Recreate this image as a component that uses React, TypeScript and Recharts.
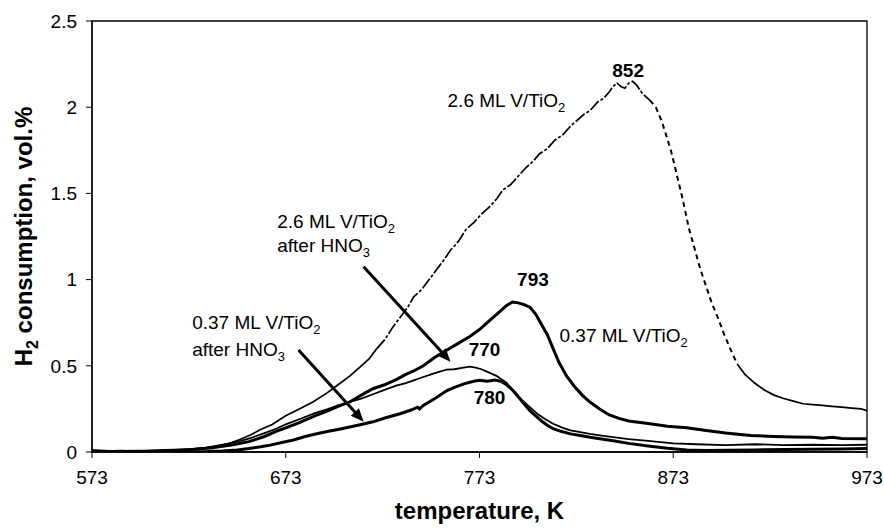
import React from 'react';
import { LineChart, Line, XAxis, YAxis, ReferenceDot, ReferenceLine, ReferenceArea } from 'recharts';

const FONT = '"Liberation Sans", Arial, Helvetica, sans-serif';

const xTicks = [573, 673, 773, 873, 973];
const yTicks = [0, 0.5, 1, 1.5, 2, 2.5];

// 2.6 ML V/TiO2
const t26 = [573, 580, 588, 596, 604, 612, 620, 628, 636, 644, 650, 655, 660, 666, 673, 680, 687, 694, 700, 706, 712, 716, 720, 724, 728, 732, 736, 739, 743, 747, 751, 755, 758, 762, 766, 770, 774, 778, 782, 785, 789, 793, 797, 801, 804, 808, 812, 816, 820, 823, 827, 830, 834, 837, 840, 842, 844, 846, 848, 850, 852, 854, 857, 861, 864, 867, 869, 872, 875, 878, 881, 884, 887, 890, 893, 896, 899, 902, 906, 910, 915, 920, 925, 930, 935, 940, 945, 950, 955, 960, 965, 970, 973];
const v26 = [0.01, 0.005, 0.008, 0.004, 0.006, 0.008, 0.012, 0.02, 0.03, 0.05, 0.075, 0.1, 0.13, 0.16, 0.21, 0.25, 0.29, 0.34, 0.39, 0.44, 0.5, 0.54, 0.6, 0.65, 0.72, 0.78, 0.84, 0.9, 0.94, 1.0, 1.06, 1.12, 1.17, 1.22, 1.29, 1.33, 1.38, 1.42, 1.47, 1.52, 1.55, 1.6, 1.65, 1.69, 1.73, 1.76, 1.81, 1.84, 1.89, 1.92, 1.96, 1.98, 2.03, 2.05, 2.09, 2.12, 2.14, 2.12, 2.11, 2.14, 2.15, 2.13, 2.08, 2.04, 2.0, 1.92, 1.85, 1.74, 1.6, 1.46, 1.3, 1.18, 1.06, 0.96, 0.86, 0.78, 0.69, 0.61, 0.51, 0.45, 0.4, 0.36, 0.33, 0.31, 0.295, 0.28, 0.275, 0.27, 0.265, 0.26, 0.255, 0.25, 0.24];

// 0.37 ML V/TiO2
const t037 = [573, 585, 600, 615, 625, 635, 645, 654, 662, 668, 673, 680, 688, 695, 700, 706, 712, 718, 724, 730, 735, 739, 744, 750, 756, 762, 768, 773, 778, 783, 787, 790, 793, 796, 799, 802, 805, 808, 811, 814, 818, 822, 826, 830, 835, 840, 845, 850, 860, 870, 880, 890, 900, 913, 925, 935, 945, 950, 955, 960, 973];
const v037 = [0.005, 0.003, 0.005, 0.01, 0.015, 0.025, 0.04, 0.06, 0.09, 0.12, 0.14, 0.17, 0.21, 0.24, 0.265, 0.29, 0.33, 0.367, 0.39, 0.42, 0.45, 0.47, 0.5, 0.55, 0.59, 0.63, 0.67, 0.71, 0.76, 0.81, 0.85, 0.87, 0.865, 0.855, 0.84, 0.8, 0.74, 0.68, 0.6, 0.52, 0.44, 0.38, 0.33, 0.29, 0.25, 0.215, 0.195, 0.18, 0.165, 0.15, 0.14, 0.125, 0.11, 0.096, 0.09, 0.087, 0.085, 0.08, 0.085, 0.078, 0.077];

// 2.6 ML V/TiO2 after HNO3
const t26h = [573, 585, 600, 612, 622, 632, 642, 650, 656, 662, 668, 673, 680, 688, 695, 700, 706, 712, 718, 724, 730, 735, 739, 744, 748, 752, 756, 760, 764, 768, 771, 774, 778, 782, 787, 791, 795, 799, 803, 807, 811, 816, 820, 825, 830, 836, 842, 850, 860, 873, 885, 900, 915, 930, 945, 960, 973];
const v26h = [0.01, 0.005, 0.006, 0.01, 0.015, 0.025, 0.045, 0.065, 0.085, 0.11, 0.135, 0.16, 0.19, 0.225, 0.25, 0.27, 0.29, 0.31, 0.335, 0.36, 0.385, 0.4, 0.416, 0.435, 0.45, 0.465, 0.478, 0.48, 0.488, 0.495, 0.49, 0.48, 0.46, 0.44, 0.4, 0.35, 0.3, 0.26, 0.22, 0.19, 0.164, 0.14, 0.125, 0.115, 0.105, 0.095, 0.086, 0.075, 0.065, 0.05, 0.045, 0.04, 0.045, 0.04, 0.042, 0.04, 0.042];

// 0.37 ML V/TiO2 after HNO3
const t037h = [573, 590, 605, 620, 632, 640, 648, 654, 660, 665, 671, 677, 683, 689, 695, 700, 706, 712, 718, 725, 732, 738, 741, 742, 744, 750, 756, 760, 765, 770, 773, 777, 781, 784, 787, 790, 793, 796, 799, 802, 805, 808, 811, 815, 820, 825, 830, 836, 842, 850, 860, 870, 880, 890, 900, 915, 930, 945, 960, 973];
const v037h = [0.005, 0.002, 0.003, 0.002, 0.003, 0.006, 0.012, 0.02, 0.03, 0.04, 0.055, 0.07, 0.09, 0.106, 0.12, 0.13, 0.145, 0.16, 0.175, 0.2, 0.222, 0.245, 0.26, 0.25, 0.27, 0.31, 0.355, 0.375, 0.395, 0.41, 0.416, 0.41, 0.418, 0.41, 0.39, 0.36, 0.32, 0.28, 0.24, 0.21, 0.18, 0.155, 0.135, 0.12, 0.105, 0.096, 0.085, 0.075, 0.065, 0.05, 0.035, 0.022, 0.012, 0.008, 0.01, 0.012, 0.015, 0.016, 0.018, 0.02];

const zip = (t: number[], v: number[]) => t.map((T, i) => ({ T, v: v[i] }));
const d26 = zip(t26, v26);
const seg = (lo: number, hi: number) => d26.filter((p) => p.T >= lo && p.T <= hi);
const d26a = seg(573, 720);
const d26b = seg(720, 861);
const d26c = seg(861, 906);
const d26d = seg(906, 973);
const d037 = zip(t037, v037);
const d26h = zip(t26h, v26h);
const d037h = zip(t037h, v037h);

type Ln = { main: string; sub?: string };
type Note = { T: number; v: number; lines: Ln[]; bold?: boolean; anchor: 'start' | 'middle'; gap?: number };

const notes: Note[] = [
  { T: 756.5, v: 2.004, lines: [{ main: '2.6 ML V/TiO', sub: '2' }], anchor: 'start' },
  { T: 668.6, v: 1.302, lines: [{ main: '2.6 ML V/TiO', sub: '2' }, { main: 'after HNO', sub: '3' }], anchor: 'start', gap: 24 },
  { T: 624.7, v: 0.713, lines: [{ main: '0.37 ML V/TiO', sub: '2' }, { main: 'after HNO', sub: '3' }], anchor: 'start', gap: 27 },
  { T: 814.3, v: 0.64, lines: [{ main: '0.37 ML V/TiO', sub: '2' }], anchor: 'start' },
  { T: 849.7, v: 2.175, lines: [{ main: '852' }], bold: true, anchor: 'middle' },
  { T: 800.6, v: 0.963, lines: [{ main: '793' }], bold: true, anchor: 'middle' },
  { T: 775.6, v: 0.557, lines: [{ main: '770' }], bold: true, anchor: 'middle' },
  { T: 778.2, v: 0.278, lines: [{ main: '780' }], bold: true, anchor: 'middle' },
];

const arrows = [
  [{ x: 713.2, y: 1.075 }, { x: 758.0, y: 0.524 }],
  [{ x: 679.6, y: 0.592 }, { x: 713.2, y: 0.176 }],
];

const ArrowShape = (props: any) => {
  const { x1, y1, x2, y2 } = props;
  const dx = x2 - x1;
  const dy = y2 - y1;
  const len = Math.sqrt(dx * dx + dy * dy);
  const ux = dx / len;
  const uy = dy / len;
  const hl = 13;
  const hw = 5.5;
  const bx = x2 - ux * hl;
  const by = y2 - uy * hl;
  const px = -uy;
  const py = ux;
  return (
    <g>
      <line x1={x1} y1={y1} x2={bx + ux * 2} y2={by + uy * 2} stroke="#000" strokeWidth={3} />
      <polygon points={`${x2},${y2} ${bx + px * hw},${by + py * hw} ${bx - px * hw},${by - py * hw}`} fill="#000" />
    </g>
  );
};

const makeLabel = (n: Note) => (props: any) => {
  const vb = props.viewBox || {};
  const x = (vb.x ?? 0) + (vb.width ?? 0) / 2;
  const y = (vb.y ?? 0) + (vb.height ?? 0) / 2;
  return (
    <g>
      {n.lines.map((ln, i) => (
        <text key={i} x={x} y={y + i * (n.gap || 0)} fontFamily={FONT} fontSize={19} fontWeight={n.bold ? 'bold' : 'normal'} textAnchor={n.anchor} fill="#000">
          {ln.main}
          {ln.sub ? <tspan dy={5} fontSize={13}>{ln.sub}</tspan> : null}
        </text>
      ))}
    </g>
  );
};

const XLabel = (props: any) => {
  const vb = props.viewBox || {};
  const x = vb.x + vb.width / 2;
  const y = vb.y + 67;
  return (
    <text x={x} y={y} textAnchor="middle" fontFamily={FONT} fontSize={24} fontWeight="bold" fill="#000">
      temperature, K
    </text>
  );
};

const YLabel = (props: any) => {
  const vb = props.viewBox || {};
  const x = vb.x + 32;
  const y = vb.y + vb.height / 2;
  return (
    <text x={x} y={y} transform={`rotate(-90, ${x}, ${y})`} textAnchor="middle" fontFamily={FONT} fontSize={24} fontWeight="bold" fill="#000">
      H<tspan dy={6} fontSize={16}>2</tspan>
      <tspan dy={-6}> consumption, vol.%</tspan>
    </text>
  );
};

const tickStyle = { fontSize: 19, fill: '#000', fontFamily: FONT };

export default function App() {
  return (
    <div style={{ position: 'absolute', left: 0, top: 0, background: '#fff' }}>
      <LineChart width={884} height={530} margin={{ top: 21, right: 17, left: 0, bottom: 0 }}>
        <XAxis
          type="number"
          dataKey="T"
          domain={[573, 973]}
          ticks={xTicks}
          allowDataOverflow
          height={78}
          tickSize={6}
          tickMargin={13}
          tick={tickStyle}
          axisLine={{ stroke: '#000', strokeWidth: 1.3 }}
          tickLine={{ stroke: '#000', strokeWidth: 1 }}
          label={{ content: XLabel }}
        />
        <YAxis
          type="number"
          domain={[0, 2.5]}
          ticks={yTicks}
          allowDataOverflow
          width={92}
          tickSize={6}
          tickMargin={9}
          tick={tickStyle}
          axisLine={{ stroke: '#000', strokeWidth: 1.3 }}
          tickLine={{ stroke: '#000', strokeWidth: 1 }}
          label={{ content: YLabel }}
        />
        <ReferenceArea x1={573} x2={973} y1={0} y2={2.5} fill="none" stroke="#000" strokeWidth={1.3} ifOverflow="visible" />
        <Line data={d26a} dataKey="v" type="linear" stroke="#000" strokeWidth={1.7} dot={false} isAnimationActive={false} />
        <Line data={d26b} dataKey="v" type="linear" stroke="#000" strokeWidth={1.7} strokeDasharray="12 2 3 2" dot={false} isAnimationActive={false} />
        <Line data={d26c} dataKey="v" type="linear" stroke="#000" strokeWidth={2} strokeDasharray="5 4" dot={false} isAnimationActive={false} />
        <Line data={d26d} dataKey="v" type="linear" stroke="#000" strokeWidth={1.7} dot={false} isAnimationActive={false} />
        <Line data={d26h} dataKey="v" type="linear" stroke="#000" strokeWidth={1.8} dot={false} isAnimationActive={false} />
        <Line data={d037} dataKey="v" type="linear" stroke="#000" strokeWidth={3} dot={false} isAnimationActive={false} />
        <Line data={d037h} dataKey="v" type="linear" stroke="#000" strokeWidth={3} dot={false} isAnimationActive={false} />
        {arrows.map((seg2, i) => (
          <ReferenceLine key={'a' + i} segment={seg2} shape={ArrowShape} ifOverflow="visible" />
        ))}
        {notes.map((n, i) => (
          <ReferenceDot key={'n' + i} x={n.T} y={n.v} r={1} fill="none" stroke="none" ifOverflow="visible" label={{ content: makeLabel(n) }} />
        ))}
      </LineChart>
    </div>
  );
}
